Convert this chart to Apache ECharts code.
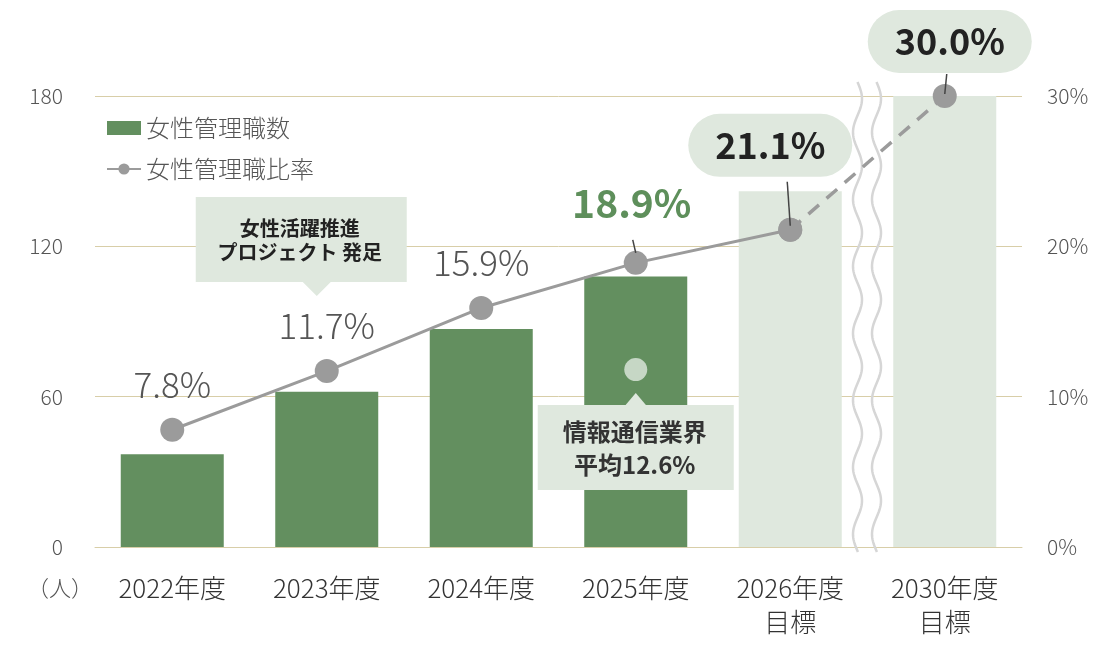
<!DOCTYPE html>
<html>
<head>
<meta charset="utf-8">
<script src="https://cdn.jsdelivr.net/npm/echarts@6/dist/echarts.min.js"></script>
<style>
  html, body { margin: 0; padding: 0; background: #fff; }
  #main { width: 1116px; height: 645px; }
</style>
</head>
<body>
<div id="main"></div>
<script>
// データ
var categories = ['2022年度', '2023年度', '2024年度', '2025年度', '2026年度\n目標', '2030年度\n目標'];
var managerCounts = [37, 62, 87, 108, 142, 180];
var managerRates = [7.8, 11.7, 15.9, 18.9, 21.1, 30.0];
var countTicks = [0, 60, 120, 180];
var rateTicks = [0, 10, 20, 30];
var industryAvg = 11.8; // 情報通信業界 平均マーカー位置

var FONT = '"Noto Sans CJK JP", "Noto Sans", sans-serif';
var DARK = '#638f5f';
var LIGHT = '#dfe8de';
var GRAY = '#9b9b9b';
var GRID = '#d8cea8';

var chart = echarts.init(document.getElementById('main'));

// 棒の色（目標は薄い色）
var barData = managerCounts.map(function (v, i) {
    return { value: v, itemStyle: { color: i < 4 ? DARK : LIGHT } };
});

// 比率ラベル
function rateLabel(i) {
    var txt = managerRates[i].toFixed(1) + '%';
    if (i < 3) {
        return { show: true, position: 'top', distance: 16, formatter: txt,
            fontSize: 35, fontWeight: 300, color: '#555', fontFamily: FONT };
    }
    if (i === 3) {
        return { show: true, position: 'top', distance: 28, offset: [-4, 0], formatter: txt,
            fontSize: 39, fontWeight: 'bold', color: '#5e8f5b', fontFamily: FONT };
    }
    return { show: true, position: 'top', formatter: txt,
        distance: i === 4 ? 41 : 11, offset: [i === 4 ? -20 : 5, 0],
        fontSize: 36, fontWeight: 'bold', color: '#222', fontFamily: FONT,
        backgroundColor: LIGHT, borderRadius: 32, width: 164, height: 63,
        lineHeight: 63, align: 'center', padding: 0 };
}

var solidData = managerRates.map(function (v, i) {
    if (i > 4) return null;
    return { value: v, label: rateLabel(i) };
});
var dashData = managerRates.map(function (v, i) {
    if (i < 4) return null;
    if (i === 4) return { value: v };
    return { value: v, label: rateLabel(i) };
});

var option = {
    animation: false,
    textStyle: { fontFamily: FONT },
    grid: { left: 95, right: 94, top: 96, bottom: 98 },
    legend: {
        orient: 'vertical', left: 101, top: 111, itemWidth: 34, itemHeight: 14, itemGap: 17,
        textStyle: { fontSize: 24, color: '#555', fontWeight: 300, fontFamily: FONT },
        data: [{ name: '女性管理職数', icon: 'rect' }, { name: '女性管理職比率' }]
    },
    xAxis: {
        type: 'category', data: categories,
        axisTick: { show: false },
        axisLine: { lineStyle: { color: GRID, width: 1 } },
        axisLabel: { fontSize: 26, fontWeight: 300, color: '#333', lineHeight: 34, margin: 24, fontFamily: FONT }
    },
    yAxis: [{
        type: 'value', min: countTicks[0], max: countTicks[countTicks.length - 1], interval: 60,
        axisLabel: { fontSize: 21, fontWeight: 300, color: '#555', margin: 32, fontFamily: FONT },
        splitLine: { lineStyle: { color: GRID, width: 1 } }
    }, {
        type: 'value', min: rateTicks[0], max: rateTicks[rateTicks.length - 1], interval: 10,
        axisLabel: { fontSize: 21, fontWeight: 300, color: '#555', margin: 25, formatter: '{value}%', fontFamily: FONT },
        splitLine: { show: false }
    }],
    series: [{
        name: '女性管理職数', type: 'bar', data: barData, barWidth: 103,
        itemStyle: { color: DARK }, z: 1
    }, {
        name: '女性管理職比率', type: 'line', yAxisIndex: 1, data: solidData,
        symbol: 'circle', symbolSize: 24, connectNulls: false,
        lineStyle: { color: GRAY, width: 3 }, itemStyle: { color: GRAY }, z: 4
    }, {
        name: '女性管理職比率', type: 'line', yAxisIndex: 1, data: dashData,
        symbol: 'circle', symbolSize: 24,
        lineStyle: { color: GRAY, width: 3.5, type: [14, 10] }, itemStyle: { color: GRAY }, z: 3
    }, {
        name: '業界平均', type: 'scatter', yAxisIndex: 1, data: [[3, industryAvg]],
        symbolSize: 23, itemStyle: { color: LIGHT }, z: 5, silent: true
    }]
};
chart.setOption(option);

// 装飾（波線・吹き出し・引出線）
function px(i, v) { return chart.convertToPixel({ xAxisIndex: 0, yAxisIndex: 1 }, [i, v]); }

function wave(cx, y0, y1) {
    var pts = [];
    for (var y = y0; y <= y1; y += 2) {
        pts.push([cx + 4.5 * Math.sin((y - y0) / 67 * Math.PI * 2), y]);
    }
    return { type: 'polyline', shape: { points: pts }, z: 2,
        style: { stroke: '#d6d6d6', lineWidth: 2.5, fill: null } };
}

var p2023 = px(1, managerRates[1]);
var p2025 = px(3, managerRates[3]);
var p2026 = px(4, managerRates[4]);
var p2030 = px(5, managerRates[5]);
var breakX = (px(4, 0)[0] + px(5, 0)[0]) / 2;

var graphics = [
    wave(breakX - 10, 82, 553),
    wave(breakX + 9, 82, 553),
    // 引出線
    { type: 'line', z: 6, shape: { x1: p2025[0] - 3, y1: p2025[1] - 23, x2: p2025[0], y2: p2025[1] - 10 },
      style: { stroke: '#444', lineWidth: 1.5 } },
    { type: 'line', z: 6, shape: { x1: p2026[0] - 3, y1: p2026[1] - 48, x2: p2026[0], y2: p2026[1] - 4 },
      style: { stroke: '#444', lineWidth: 1.5 } },
    { type: 'line', z: 6, shape: { x1: p2030[0] + 2, y1: p2030[1] - 22, x2: p2030[0], y2: p2030[1] - 2 },
      style: { stroke: '#444', lineWidth: 1.5 } },
    // 女性活躍推進プロジェクト 発足
    { type: 'rect', z: 6, shape: { x: p2023[0] - 131, y: 197, width: 211, height: 85 }, style: { fill: LIGHT } },
    { type: 'polygon', z: 6, shape: { points: [[p2023[0] - 25, 281], [p2023[0] + 5, 281], [p2023[0] - 10, 296]] },
      style: { fill: LIGHT } },
    { type: 'text', z: 7, style: { text: '女性活躍推進\nプロジェクト 発足', x: p2023[0] - 27, y: 240,
      align: 'center', verticalAlign: 'middle', fontSize: 20, lineHeight: 24, fontWeight: 'bold',
      fill: '#222', fontFamily: FONT } },
    // 情報通信業界 平均
    { type: 'rect', z: 6, shape: { x: p2025[0] - 98, y: 405, width: 196, height: 85 }, style: { fill: LIGHT } },
    { type: 'polygon', z: 6, shape: { points: [[p2025[0] - 11, 406], [p2025[0] + 11, 406], [p2025[0], 393]] },
      style: { fill: LIGHT } },
    { type: 'text', z: 7, style: { text: '情報通信業界\n平均12.6%', x: p2025[0] - 1, y: 448,
      align: 'center', verticalAlign: 'middle', fontSize: 24, lineHeight: 33, fontWeight: 'bold',
      fill: '#333', fontFamily: FONT } },
    // 単位
    { type: 'text', z: 7, style: { text: '（人）', x: 60, y: 588, align: 'center', verticalAlign: 'middle',
      fontSize: 22, fontWeight: 300, fill: '#555', fontFamily: FONT } }
];
chart.setOption({ graphic: graphics });
</script>
</body>
</html>
